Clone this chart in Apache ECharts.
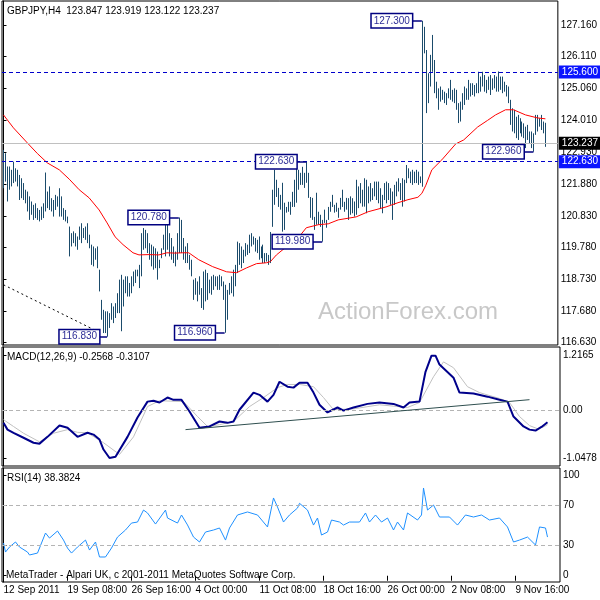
<!DOCTYPE html>
<html lang="en">
<head>
<meta charset="utf-8">
<title>GBPJPY H4</title>
<style>
  *{padding:0;margin:0;}
  body,html{background:#fff;}
  #main{width:600px;height:600px;}
</style>
</head>
<body>
<div id="main"></div>
<script src="https://cdn.jsdelivr.net/npm/echarts@6/dist/echarts.min.js"></script>
<script>
// ---- price bars (H4), index 0 = 12 Sep 2011 00:00
var barHigh = [
  123.02,122.91,122.47,122.47,122.36,122.63,122.41,122.36,122.19,122.08,
  121.92,121.70,121.64,121.48,121.31,121.20,121.25,121.09,121.03,121.14,
  121.25,122.27,121.64,121.81,121.42,121.36,121.53,121.48,121.75,121.48,
  121.09,121.03,120.81,120.48,120.26,120.32,120.26,120.15,120.48,120.59,
  120.43,120.48,120.59,120.21,119.88,119.82,119.76,119.82,119.05,118.05,
  117.72,117.67,117.67,117.61,117.94,117.83,117.94,118.27,118.72,118.88,
  118.72,118.83,118.83,118.61,118.83,118.99,119.05,119.05,119.21,120.26,
  120.43,120.37,120.26,119.93,119.88,119.82,119.76,119.65,119.38,119.76,
  120.21,120.81,120.76,120.26,120.10,119.82,119.65,120.26,120.78,120.70,
  120.10,119.82,119.93,119.54,119.38,118.72,118.77,118.66,118.83,118.44,
  118.99,119.05,118.94,118.72,118.83,118.88,118.83,118.83,118.88,118.83,
  118.66,118.55,118.38,118.61,118.83,119.05,119.21,119.98,119.93,119.82,
  119.71,119.93,119.88,120.21,120.26,120.15,120.10,120.04,120.15,119.82,
  119.88,119.60,119.60,119.54,120.30,121.70,122.36,122.03,121.76,121.53,
  121.93,121.27,121.13,121.30,121.30,121.63,122.03,122.58,122.36,122.26,
  122.46,122.26,122.63,122.26,121.46,121.43,120.80,121.60,120.97,120.87,
  120.70,121.04,120.70,121.13,121.30,121.53,121.20,121.27,121.10,121.43,
  121.70,121.30,121.43,121.42,121.48,121.42,121.31,122.03,121.81,121.92,
  121.70,122.08,122.03,121.81,121.92,121.75,121.97,121.97,121.97,121.75,
  121.53,121.92,121.97,121.92,121.75,121.64,121.86,121.97,122.08,121.92,
  122.08,122.03,122.52,122.41,122.30,122.36,122.30,122.36,122.30,122.14,
  127.30,127.10,126.33,125.56,126.17,126.83,126.00,125.28,125.06,125.12,
  125.01,124.95,124.90,125.06,125.34,125.01,125.06,125.01,124.57,124.62,
  124.90,125.12,125.06,125.34,125.23,125.23,125.17,125.23,125.61,125.45,
  125.61,125.50,125.34,125.45,125.50,125.39,125.50,125.45,125.62,125.45,
  125.45,125.28,125.17,125.12,124.68,124.40,124.35,124.12,124.18,124.07,
  123.96,123.90,123.79,123.85,123.63,123.63,123.57,124.18,124.18,124.07,
  124.18,123.96,123.919
];
var barLow = [
  121.75,121.97,121.31,121.70,121.81,121.92,121.97,121.81,121.36,121.42,
  121.36,121.25,120.98,120.70,120.87,120.70,120.76,120.70,120.65,120.70,
  120.76,120.98,121.09,121.03,120.98,120.81,121.03,121.14,120.81,120.81,
  120.70,120.65,120.59,119.49,119.82,119.93,119.82,119.71,120.04,119.93,
  120.10,120.04,119.93,119.76,119.21,119.16,119.38,119.10,118.33,117.39,
  116.95,116.95,116.83,117.12,117.39,117.28,117.45,117.61,117.61,117.01,
  117.83,118.27,118.16,118.16,118.27,118.50,118.61,118.83,118.44,118.83,
  119.71,119.76,119.60,119.38,119.16,119.05,119.10,118.72,119.10,119.43,
  119.71,119.49,119.71,119.49,119.38,119.27,119.16,119.38,119.60,119.60,
  119.38,119.27,119.27,119.05,118.83,118.05,118.22,118.00,118.22,117.78,
  117.72,118.00,118.05,118.27,118.22,118.38,118.50,118.38,118.38,118.50,
  118.05,116.96,117.39,118.22,118.27,118.16,118.50,118.94,119.21,119.10,
  119.27,119.49,119.54,119.60,119.82,119.88,119.65,119.60,119.38,119.43,
  119.27,119.27,119.32,119.21,119.27,120.47,121.20,121.46,121.13,121.04,
  120.31,120.37,120.94,120.97,120.87,121.13,121.13,121.27,121.70,121.86,
  121.86,121.76,121.93,121.43,120.77,120.70,120.37,120.54,120.54,120.47,
  119.98,120.60,120.44,120.70,120.97,121.13,120.94,120.97,120.77,121.04,
  121.13,120.97,121.04,120.70,120.87,120.92,120.81,120.87,121.09,121.25,
  121.14,121.14,120.92,121.25,121.31,121.36,121.48,121.36,121.25,121.09,
  120.92,121.36,121.25,121.36,121.20,120.70,121.20,121.48,121.64,121.36,
  121.14,121.31,121.92,122.08,121.92,121.86,121.92,121.92,121.86,121.92,
  121.80,126.22,124.24,124.57,125.12,125.61,124.90,124.73,124.35,124.62,
  124.68,124.57,124.51,124.73,124.68,124.62,124.57,124.35,123.91,123.96,
  124.35,124.51,124.68,124.68,124.79,124.84,124.79,124.90,124.90,124.95,
  125.12,124.95,124.90,125.01,124.84,125.01,125.06,124.95,124.95,125.01,
  124.90,124.95,124.79,124.57,123.85,123.63,123.57,123.41,123.35,123.57,
  123.46,123.41,123.08,123.35,123.24,123.08,122.96,123.52,123.63,123.79,
  123.68,123.57,123.122
];
// moving average (red), [bar index, price]
var maPoints = [
  [0,124.18],[5,123.75],[12,123.25],[17,122.90],[22,122.59],[28,122.36],[33,122.05],
  [38,121.70],[43,121.43],[48,121.03],[52,120.60],[56,120.14],[60,119.88],[65,119.61],
  [68,119.54],[73,119.55],[78,119.54],[82,119.61],[86,119.60],[90,119.61],[93,119.61],
  [98,119.38],[105,119.15],[112,118.98],[117,118.95],[122,119.11],[127,119.25],[132,119.28],
  [134,119.32],[137,119.54],[142,119.81],[148,120.11],[152,120.44],[158,120.54],[163,120.57],
  [168,120.70],[177,120.80],[183,120.97],[192,121.13],[198,121.27],[203,121.37],[208,121.45],
  [210,121.58],[212,121.85],[215,122.36],[220,122.69],[227,123.22],[231,123.35],[238,123.78],
  [243,124.00],[247,124.18],[252,124.35],[256,124.35],[262,124.18],[268,124.08],[272,124.05]
];
// MACD main and signal, [bar index, value]
var macdPoints = [
  [0,-0.27],[2,-0.42],[5,-0.49],[10,-0.60],[15,-0.71],[18,-0.73],[22,-0.58],[28,-0.33],
  [32,-0.38],[37,-0.58],[42,-0.49],[45,-0.53],[48,-0.64],[50,-0.86],[53,-1.0478],[56,-1.02],
  [62,-0.58],[67,-0.15],[72,0.20],[75,0.22],[78,0.18],[82,0.29],[85,0.24],[89,0.24],
  [93,-0.02],[98,-0.38],[103,-0.35],[108,-0.24],[112,-0.27],[115,-0.24],[118,0.02],[125,0.40],
  [128,0.35],[132,0.20],[135,0.35],[138,0.64],[142,0.53],[145,0.51],[148,0.62],[152,0.62],
  [155,0.40],[158,0.13],[162,-0.04],[167,0.07],[170,0.00],[175,0.07],[182,0.15],[188,0.18],
  [195,0.15],[200,0.07],[203,0.18],[208,0.20],[211,0.86],[214,1.2165],[216,1.2165],[218,1.02],
  [225,0.73],[228,0.40],[235,0.38],[242,0.31],[248,0.24],[252,0.20],[255,-0.13],[260,-0.35],
  [263,-0.42],[266,-0.44],[269,-0.36],[272,-0.2568]
];
var signalPoints = [
  [0,-0.20],[5,-0.35],[10,-0.50],[18,-0.69],[25,-0.50],[32,-0.42],[37,-0.48],[42,-0.49],
  [50,-0.71],[58,-0.97],[65,-0.58],[72,0.09],[78,0.22],[90,0.20],[97,-0.13],[102,-0.35],
  [108,-0.31],[115,-0.24],[123,0.09],[130,0.29],[137,0.51],[142,0.58],[148,0.58],[155,0.53],
  [160,0.29],[165,0.02],[175,0.04],[188,0.13],[202,0.07],[208,0.18],[215,0.75],[220,1.08],
  [225,0.95],[232,0.53],[238,0.40],[248,0.27],[253,0.18],[258,-0.13],[263,-0.33],[267,-0.40],
  [270,-0.36],[272,-0.3107]
];
// RSI(14), [bar index, value]
var rsiPoints = [
  [0,32.5],[1,23.5],[3,28.5],[6,33.5],[8,28.5],[12,23.5],[13,20.6],[17,22.5],[18,21.5],
  [21,42.4],[23,37.4],[27,44.4],[30,35.4],[32,27.5],[34,22.5],[37,28.5],[41,35.4],[43,25.5],
  [46,33.5],[48,18.6],[51,18.6],[54,27.5],[57,38.4],[61,45.4],[64,52.3],[67,53.3],[70,65.2],
  [72,62.3],[76,51.3],[81,65.2],[82,57.3],[87,52.3],[89,60.3],[92,50.4],[95,38.4],[98,33.5],
  [101,43.4],[105,45.4],[108,47.4],[111,35.4],[113,47.4],[117,60.3],[122,63.3],[127,60.3],
  [132,48.4],[135,77.2],[137,68.2],[140,53.3],[143,60.3],[147,67.2],[148,71.9],[152,65.2],
  [155,50.3],[157,57.3],[159,40.4],[162,43.4],[164,55.3],[168,53.3],[170,50.3],[173,53.3],
  [178,53.3],[181,62.3],[183,53.3],[186,60.3],[189,53.3],[192,57.3],[195,45.4],[197,53.3],
  [200,45.4],[202,62.3],[207,55.3],[209,60.3],[210,87.1],[212,65.2],[215,70.2],[218,58.3],
  [223,58.3],[227,50.3],[231,60.3],[235,58.3],[239,60.3],[243,55.3],[248,57.3],[252,48.4],
  [255,33.5],[258,35.4],[262,38.4],[266,30.5],[268,48.4],[271,47.4],[272,38.38]
];
// annotations: [text, price, box end index, bar index]
var notes = [
  ['127.300',127.30,205,210],
  ['122.630',122.63,147,152],
  ['120.780',120.78,83,88],
  ['119.980',119.98,155,160],
  ['116.830',116.83,48,52],
  ['116.960',116.96,106,111],
  ['122.960',122.96,261,266]
];
var levelBlue = [125.60, 122.63];
var bidPrice = 123.237;
var priceTicks = [116.63,117.68,118.73,119.78,120.83,121.88,122.93,124.01,125.06,126.11,127.16];
var macdTicks = [-1.0478, 0, 1.2165];
var rsiTicks = [0, 30, 70, 100];
var timeTickIdx = [0,32,64,96,128,160,192,224,256];
var timeLabels = ['12 Sep 2011','19 Sep 08:00','26 Sep 16:00','4 Oct 00:00','11 Oct 08:00',
                  '18 Oct 16:00','26 Oct 00:00','2 Nov 08:00','9 Nov 16:00'];

var FONT = 'Liberation Sans';
var chart = echarts.init(document.getElementById('main'), null, {renderer:'canvas'});

var bars = barHigh.map(function (h, i) { return [i, barLow[i], h]; });

function xAx(gi, show) {
  return {
    type:'value', gridIndex:gi, min:-0.75, max:278.25,
    axisLine:{show:false}, splitLine:{show:false},
    axisTick:{show:show, customValues:timeTickIdx, length:5, lineStyle:{color:'#000'}},
    axisLabel:{show:show, customValues:timeTickIdx, align:'left', margin:3,
      color:'#000', fontFamily:FONT, fontSize:10,
      formatter:function (v) { var k = timeTickIdx.indexOf(Math.round(v)); return k < 0 ? '' : timeLabels[k]; }}
  };
}
function yAx(gi, mn, mx, ticks, fmt) {
  return {
    type:'value', gridIndex:gi, position:'right', min:mn, max:mx, scale:true,
    axisLine:{show:true, lineStyle:{color:'#000'}}, splitLine:{show:false},
    axisTick:{show:true, customValues:ticks, length:3, lineStyle:{color:'#000'}},
    axisLabel:{customValues:ticks, margin:3, color:'#000', fontFamily:FONT, fontSize:10, formatter:fmt}
  };
}

var noteLines = notes.map(function (n) {
  return [
    {coord:[n[2], n[1]], label:{show:true, position:'start', distance:0, formatter:n[0],
      color:'#2d2d96', fontFamily:FONT, fontSize:10, backgroundColor:'#fff',
      borderColor:'#000080', borderWidth:1.5, padding:[2,2,1,2]}},
    {coord:[n[3], n[1]]}
  ];
});
var levelLines = levelBlue.map(function (v) {
  return {yAxis:v, lineStyle:{color:'#0000cc', type:[4,3], width:1},
    label:{show:true, position:'end', distance:1, formatter:v.toFixed(3), color:'#fff',
      backgroundColor:'#0a14ff', padding:[2,4,1,3], fontFamily:FONT, fontSize:10}};
});

var option = {
  animation:false,
  textStyle:{fontFamily:FONT},
  grid:[
    {left:2, right:40, top:1, height:344, show:true, borderColor:'#000', borderWidth:1, backgroundColor:'transparent'},
    {left:2, right:40, top:347, height:119, show:true, borderColor:'#000', borderWidth:1, backgroundColor:'transparent'},
    {left:2, right:40, top:468, height:114, show:true, borderColor:'#000', borderWidth:1, backgroundColor:'transparent'}
  ],
  xAxis:[xAx(0,false), xAx(1,false), xAx(2,true)],
  yAxis:[
    yAx(0, 116.554, 127.955, priceTicks, function (v) { return v.toFixed(3); }),
    yAx(1, -1.225, 1.409, macdTicks, function (v) { return Math.abs(v) < 1e-9 ? '0.00' : v.toFixed(4); }),
    yAx(2, -6.22, 106.95, rsiTicks, function (v) { return String(Math.round(v)); })
  ],
  graphic:[
    {type:'text', x:318, y:312, z:1, style:{text:'ActionForex.com', fill:'#c8c8c8',
      font:'24px "Liberation Sans"', verticalAlign:'middle'}},
    {type:'text', x:7, y:11, z:100, style:{text:'GBPJPY,H4  123.847 123.919 123.122 123.237',
      fill:'#000', font:'10px "Liberation Sans"', verticalAlign:'middle'}},
    {type:'text', x:7, y:357, z:100, style:{text:'MACD(12,26,9) -0.2568 -0.3107',
      fill:'#000', font:'10px "Liberation Sans"', verticalAlign:'middle'}},
    {type:'text', x:7, y:478, z:100, style:{text:'RSI(14) 38.3824',
      fill:'#000', font:'10px "Liberation Sans"', verticalAlign:'middle'}},
    {type:'text', x:6, y:575, z:100, style:{text:'MetaTrader - Alpari UK, c 2001-2011 MetaQuotes Software Corp.',
      fill:'#000', font:'10px "Liberation Sans"', verticalAlign:'middle'}}
  ],
  series:[
    {
      type:'custom', xAxisIndex:0, yAxisIndex:0, data:bars, encode:{x:0, y:[1,2]}, z:3,
      renderItem:function (params, api) {
        var lo = api.coord([api.value(0), api.value(1)]);
        var hi = api.coord([api.value(0), api.value(2)]);
        var x = Math.round(lo[0]) + 0.5;
        return {type:'line', shape:{x1:x, y1:lo[1], x2:x, y2:hi[1]},
          style:{stroke:'#1b4b6b', lineWidth:1}};
      }
    },
    {
      type:'line', xAxisIndex:0, yAxisIndex:0, data:maPoints, showSymbol:false, z:4,
      lineStyle:{color:'#ff0000', width:1}
    },
    {
      // price levels, bid line, annotations
      type:'line', xAxisIndex:0, yAxisIndex:0, data:[], clip:false, z:6,
      markLine:{
        silent:true, symbol:'none', animation:false,
        data:[].concat(levelLines, [
          {yAxis:bidPrice, lineStyle:{color:'#c0c0c0', type:'solid', width:1},
            label:{show:true, position:'end', distance:1, formatter:bidPrice.toFixed(3), color:'#fff',
              backgroundColor:'#000', padding:[2,4,1,3], fontFamily:FONT, fontSize:10}},
          [{coord:[0,118.55], lineStyle:{color:'#000', type:[2,3], width:1}, label:{show:false}},
           {coord:[48.5,116.96]}]
        ], noteLines),
        lineStyle:{color:'#000080', type:'solid', width:1.5}
      }
    },
    {
      type:'line', xAxisIndex:1, yAxisIndex:1, data:signalPoints, showSymbol:false, z:3,
      lineStyle:{color:'#c0c0c0', width:1}
    },
    {
      type:'line', xAxisIndex:1, yAxisIndex:1, data:macdPoints, showSymbol:false, z:4,
      lineStyle:{color:'#00008b', width:2},
      markLine:{
        silent:true, symbol:'none', animation:false,
        data:[
          {yAxis:0, lineStyle:{color:'#b4b4b4', type:[4,3], width:1}, label:{show:false}},
          [{coord:[91,-0.42], lineStyle:{color:'#2f4f4f', type:'solid', width:1}, label:{show:false}},
           {coord:[263,0.243]}]
        ]
      }
    },
    {
      type:'line', xAxisIndex:2, yAxisIndex:2, data:rsiPoints, showSymbol:false, z:4,
      lineStyle:{color:'#1e90ff', width:1},
      markLine:{
        silent:true, symbol:'none', animation:false,
        lineStyle:{color:'#b4b4b4', type:[4,3], width:1}, label:{show:false},
        data:[{yAxis:30}, {yAxis:70}]
      }
    }
  ]
};
chart.setOption(option);
</script>
</body>
</html>
